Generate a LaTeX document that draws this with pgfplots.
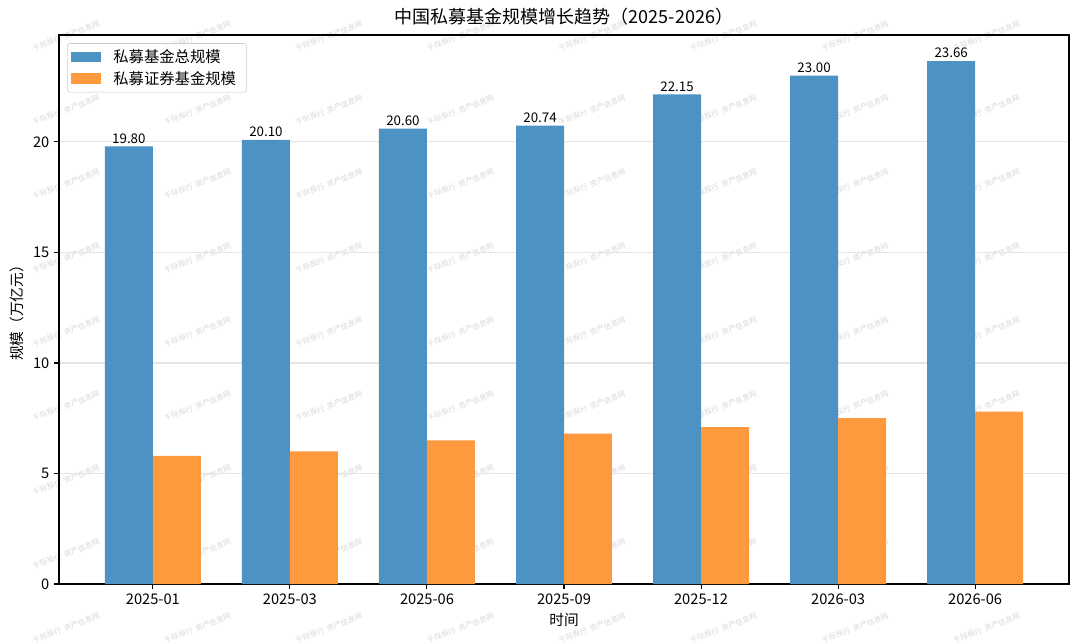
\documentclass[border=0pt]{standalone}
\usepackage{pgfplots}
\pgfplotsset{compat=1.18}
\usepackage{fontspec}
\setmainfont{Noto Sans CJK SC}
\definecolor{cblue}{HTML}{4C92C3}
\definecolor{corange}{HTML}{FF993E}
\begin{document}
\begin{tikzpicture}
\path[use as bounding box] (0pt,0pt) rectangle (810pt,481.5pt);
\begin{scope}[x=0.75pt,y=0.75pt]
\foreach \i in {0,...,7}{\foreach \j in {0,...,8}{
 \node[rotate=21, text=black!16, font=\fontsize{5.6}{6}\selectfont, inner sep=0pt] at ({66+131.5*\i},{642-36-74*\j}) {千际投行\ \ 资产信息网};
}}
\end{scope}
\begin{axis}[
  at={(44.25pt,43.5pt)}, anchor=south west, scale only axis,
  width=757.5pt, height=411.75pt,
  xmin=-0.685, xmax=6.685, ymin=0, ymax=24.84,
  xtick={0,1,2,3,4,5,6},
  xticklabels={2025-01,2025-03,2025-06,2025-09,2025-12,2026-03,2026-06},
  ytick={0,5,10,15,20},
  tick align=outside, major tick length=3.75pt,
  tick style={black, line width=0.8pt},
  xtick pos=bottom, ytick pos=left,
  axis line style={black, line width=0.9pt},
  ymajorgrids, major grid style={black!10, line width=0.8pt},
  /pgf/number format/assume math mode=true,
  ticklabel style={font=\fontsize{11}{13}\selectfont},
  title={中国私募基金规模增长趋势（2025-2026）},
  title style={font=\fontsize{13.5}{15}\selectfont, yshift=-2pt},
  xlabel={时间}, ylabel={规模（万亿元）},
  label style={font=\fontsize{11}{13}\selectfont},
  ybar, bar width=0.35,
  legend style={at={(0.008,0.985)}, anchor=north west, draw=black!20, rounded corners=2pt,
    fill=white, fill opacity=0.8, text opacity=1, font=\fontsize{11.5}{13}\selectfont,
    row sep=1pt, inner xsep=3pt, inner ysep=2.5pt,
    nodes={inner xsep=5pt},
    /tikz/every odd column/.append style={column sep=4pt}},
  legend cell align=left,
  legend image code/.code={\fill[#1, draw=none, sharp corners, fill opacity=1] (0pt,-4.1pt) rectangle (22.5pt,4.1pt);},
]
\addplot[fill=cblue, draw=none, bar shift=-0.175,
  nodes near coords={\pgfmathprintnumber[fixed,fixed zerofill,precision=2,assume math mode=true]{\pgfplotspointmeta}},
  nodes near coords style={font=\fontsize{10}{12}\selectfont, text=black, inner sep=2pt},
  point meta=y] coordinates {
(0,19.80) (1,20.10) (2,20.60) (3,20.74) (4,22.15) (5,23.00) (6,23.66)};
\addlegendentry{私募基金总规模}
\addplot[fill=corange, draw=none, bar shift=0.175] coordinates {
(0,5.8) (1,6.0) (2,6.5) (3,6.8) (4,7.1) (5,7.5) (6,7.8)};
\addlegendentry{私募证券基金规模}
\end{axis}
\end{tikzpicture}
\end{document}
